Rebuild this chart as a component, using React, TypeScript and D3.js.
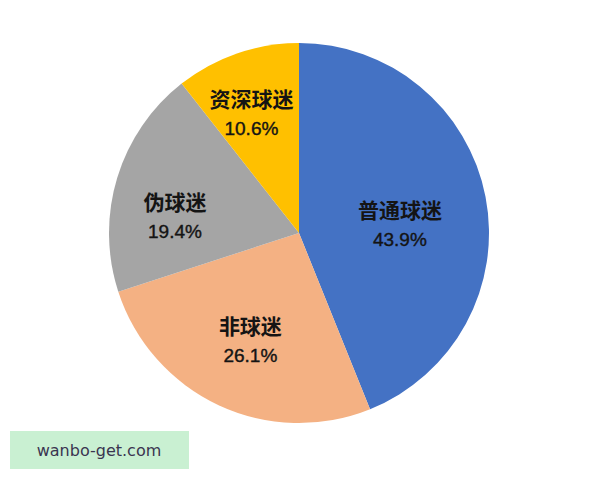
import React from "react";
import * as d3 from "d3";

const WIDTH = 600;
const HEIGHT = 480;
const CENTER = { X: 299, Y: 233 };
const RADIUS = 190;
const LABEL_RADIUS = 115;

const categories = ["普通球迷", "非球迷", "伪球迷", "资深球迷"];
const shares = [43.9, 26.1, 19.4, 10.6];
const colors = ["#4472C4", "#F4B183", "#A5A5A5", "#FFC000"];

// small nudges so the labels sit where the original placed them
const LABEL_NUDGE: [number, number][] = [
  [-12, 14],
  [0, 4],
  [-14, 17],
  [-10, -10],
];

const App: React.FC = () => {
  const data = categories.map((name, i) => ({ name, value: shares[i], color: colors[i] }));

  const pie = d3
    .pie<{ name: string; value: number; color: string }>()
    .value((d) => d.value)
    .sort(null);

  const arc = d3.arc<d3.PieArcDatum<any>>().innerRadius(0).outerRadius(RADIUS);
  const labelArc = d3.arc<d3.PieArcDatum<any>>().innerRadius(LABEL_RADIUS).outerRadius(LABEL_RADIUS);

  const arcs = pie(data);

  return (
    <svg
      width={WIDTH}
      height={HEIGHT}
      style={{ position: "absolute", left: 0, top: 0, background: "#fff" }}
    >
      <g transform={`translate(${CENTER.X}, ${CENTER.Y})`}>
        {arcs.map((a) => (
          <path key={a.data.name} d={arc(a) || ""} fill={a.data.color} />
        ))}
        {arcs.map((a, i) => {
          const [cx, cy] = labelArc.centroid(a);
          const x = cx + LABEL_NUDGE[i][0];
          const y = cy + LABEL_NUDGE[i][1];
          return (
            <g key={a.data.name + "-label"} fill="#141414" textAnchor="middle">
              <text
                x={x}
                y={y - 7}
                fontFamily="'Noto Sans CJK SC', sans-serif"
                fontSize={21}
                fontWeight={700}
              >
                {a.data.name}
              </text>
              <text
                x={x}
                y={y + 21}
                fontFamily="'Liberation Sans', Arial, sans-serif"
                fontSize={19}
                fontWeight={400}
                stroke="#141414"
                strokeWidth={0.4}
              >
                {a.data.value.toFixed(1)}%
              </text>
            </g>
          );
        })}
      </g>
      <rect x={10} y={431} width={179} height={38} fill="#C9F0D2" />
      <text
        x={99}
        y={456}
        textAnchor="middle"
        fontFamily="'DejaVu Sans', sans-serif"
        fontSize={16}
        fill="#3a3550"
      >
        wanbo-get.com
      </text>
    </svg>
  );
};

export default App;
